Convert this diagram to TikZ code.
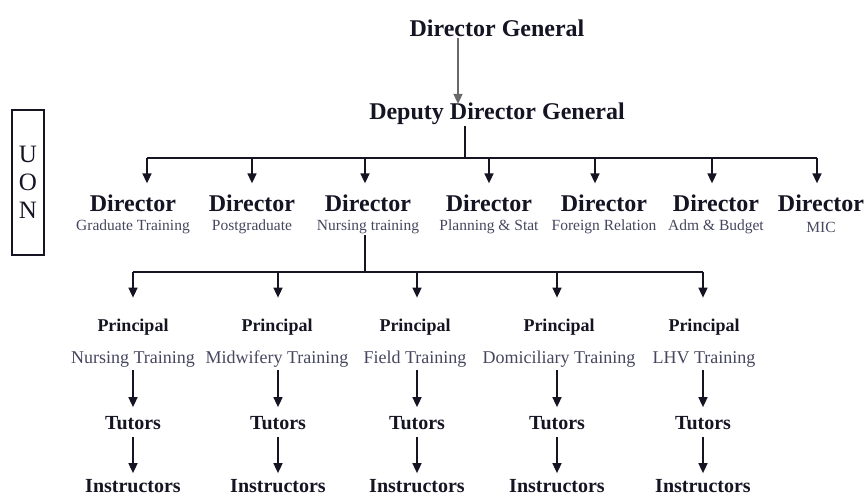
\documentclass[tikz,border=0pt]{standalone}
\usepackage{fontspec}
\setmainfont{Liberation Serif}
\usepackage{tikz}
\usetikzlibrary{arrows.meta, positioning}
\definecolor{mydark}{RGB}{20,20,35}
\definecolor{mygrey}{RGB}{105,105,105}
\definecolor{mysub}{RGB}{70,70,95}
\tikzset{
  head/.style={font=\fontsize{24}{28}\selectfont\bfseries, text=mydark, inner sep=1pt},
  dirlabel/.style={font=\fontsize{24}{28}\selectfont\bfseries, text=mydark, inner sep=1pt},
  sublabel/.style={font=\fontsize{15.5}{18}\selectfont, text=mysub, inner sep=1pt},
  principal/.style={font=\fontsize{18}{21}\selectfont\bfseries, text=mydark, inner sep=1pt},
  school/.style={font=\fontsize{18}{21}\selectfont, text=mysub, inner sep=1pt},
  staff/.style={font=\fontsize{20}{24}\selectfont\bfseries, text=mydark, inner sep=1pt},
  uonbox/.style={draw=mydark, line width=1.6pt, minimum width=32pt, minimum height=145pt,
    align=center, font=\fontsize{25}{28}\selectfont, text=mydark, inner sep=0pt},
  arrow/.style={-{Triangle[length=10pt,width=9pt]}, line width=1.6pt, color=mydark},
  line/.style={line width=2pt, color=mydark}
}

\begin{document}
\begin{tikzpicture}[x=1pt, y=-1pt]
  \useasboundingbox (0,0) rectangle (868,497);

  % ── UON box ──
  \node[uonbox] (uon) at (28,182.5) {U\\O\\N};

  % ── top of the chart ──
  \node[head] (dg)  at (497,28)  {Director General};
  \node[head] (ddg) at (497,114) {Deputy Director General};
  \draw[arrow, color=mygrey] ([xshift=-39pt]dg.south) -- ([xshift=-39pt,yshift=-2pt]ddg.north);

  % ── directors row (bus at y = 158) ──
  \coordinate (ddgdrop) at (465,158);
  \draw[line] (ddgdrop |- ddg.south) -- (ddgdrop);
  \foreach \i/\x/\ax/\sub in {1/133/147/Graduate Training, 2/252/252/Postgraduate,
      3/368/365/Nursing training, 4/489/489/Planning \& Stat, 5/604/595/Foreign Relation,
      6/716/712/Adm \& Budget, 7/821/817/MIC} {
    \node[dirlabel] (dir\i) at (\x,203) {Director};
    \node[sublabel] (sub\i) at (\x,227) {\sub};
    \coordinate (bus\i) at (\ax,158);
    \draw[arrow, shorten >=10pt] (bus\i) -- (bus\i |- dir\i.north);
  }
  \draw[line] (bus1) -- (bus7);

  % ── nursing training branch (bus at y = 272) ──
  \coordinate (nbus) at (365,272);
  \draw[line] (nbus |- sub3.south) -- (nbus);
  \foreach \i/\x/\ax/\school in {1/133/133/Nursing Training, 2/277/278/Midwifery Training,
      3/415/417/Field Training, 4/559/557/Domiciliary Training, 5/704/703/LHV Training} {
    \node[principal] (prin\i)  at (\x,327) {Principal};
    \node[school]    (sch\i)   at (\x,359) {\school};
    \node[staff]     (tut\i)   at (\ax,423) {Tutors};
    \node[staff]     (ins\i)   at (\ax,486) {Instructors};
    \coordinate (nbus\i) at (\ax,272);
    \draw[arrow, shorten >=20pt] (nbus\i) -- (nbus\i |- prin\i.north);
    \draw[arrow, shorten <=2pt, shorten >=8pt] (nbus\i |- sch\i.south) -- (tut\i.north);
    \draw[arrow, shorten <=6pt, shorten >=5pt] (tut\i.south) -- (ins\i.north);
  }
  \draw[line] (nbus1) -- (nbus5);
\end{tikzpicture}
\end{document}
